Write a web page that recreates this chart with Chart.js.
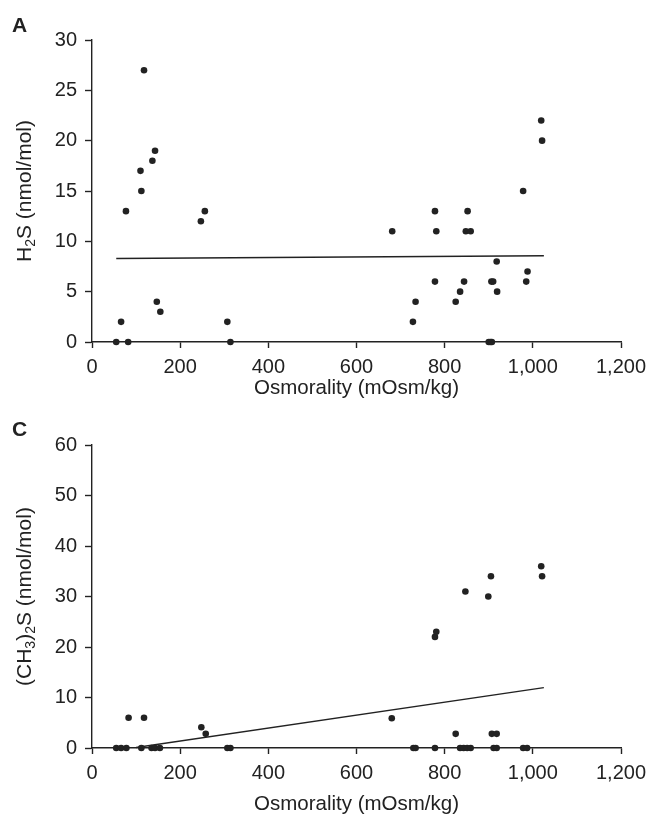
<!DOCTYPE html>
<html>
<head>
<meta charset="utf-8">
<script src="https://cdn.jsdelivr.net/npm/chart.js@4.4.1/dist/chart.umd.min.js"></script>
<style>
  body { margin: 0; background: #fff; }
  #wrap { position: relative; width: 651px; height: 815px; }
  canvas { position: absolute; left: 0; }
  #chartA { top: 0; }
  #chartC { top: 400px; }
  .panel { position: absolute; left: 12px; font: bold 21px 'Liberation Sans', Arial, sans-serif; color: #222; }
</style>
</head>
<body>
<div id="wrap">
  <canvas id="chartA" width="651" height="400"></canvas>
  <canvas id="chartC" width="651" height="415"></canvas>
  <div class="panel" style="top:13px">A</div>
  <div class="panel" style="top:417px">C</div>
</div>
<script>
// パネルA: H2S
const h2sX = [55, 66, 82, 77, 118, 110, 112, 137, 143, 147, 155, 247, 256, 307, 314,
  681, 778, 781, 852, 848, 859, 978, 1019, 1021, 918, 988, 778, 844, 906, 910, 985,
  835, 919, 734, 825, 728, 900, 904, 907];
const h2sY = [0, 2, 0, 13, 27, 17, 15, 18, 19, 4, 3, 12, 13, 2, 0,
  11, 13, 11, 13, 11, 11, 15, 22, 20, 8, 7, 6, 6, 6, 6, 6,
  5, 5, 4, 4, 2, 0, 0, 0];
const h2sFitX = [55, 1025];
const h2sFitY = [8.3, 8.57];

// パネルC: (CH3)2S
const dmsX = [55, 66, 78, 112, 135, 143, 154, 307, 314, 729, 734, 778, 835, 843, 851, 859,
  911, 918, 978, 987,
  83, 118, 248, 258, 680, 825, 907, 918, 778, 781, 847, 899, 905, 1019, 1021];
const dmsY = [0, 0, 0, 0, 0, 0, 0, 0, 0, 0, 0, 0, 0, 0, 0, 0,
  0, 0, 0, 0,
  6, 6, 4.1, 2.8, 5.9, 2.8, 2.8, 2.8, 22, 23, 31, 30, 34, 36, 34];
const dmsFitX = [100, 1025];
const dmsFitY = [0.1, 11.95];

const xMax = 1200;
const xStep = 200;

// 縦軸タイトル（下付き文字あり）
const h2sTitle = [['H'], ['2', true], ['S (nmol/mol)']];
const dmsTitle = [['(CH'], ['3', true], [')'], ['2', true], ['S (nmol/mol)']];

const FONT = "'Liberation Sans', Arial, sans-serif";
const INK = '#222';

const toPoints = (xs, ys) => xs.map((x, i) => ({ x: x, y: ys[i] }));

/**
 * 縦軸タイトルを下付き文字付きで描画
 */
const createYTitlePlugin = (parts) => {
  return {
    id: 'yTitleSub',
    afterDraw(chart) {
      const { ctx, chartArea } = chart;
      const main = `21px ${FONT}`;
      const sub = `14px ${FONT}`;
      ctx.save();
      let total = 0;
      for (const p of parts) {
        ctx.font = p[1] ? sub : main;
        total += ctx.measureText(p[0]).width;
      }
      ctx.translate(31, (chartArea.top + chartArea.bottom) / 2);
      ctx.rotate(-Math.PI / 2);
      ctx.fillStyle = INK;
      ctx.textBaseline = 'alphabetic';
      ctx.textAlign = 'left';
      let x = -total / 2;
      for (const p of parts) {
        ctx.font = p[1] ? sub : main;
        ctx.fillText(p[0], x, p[1] ? 4 : 0);
        x += ctx.measureText(p[0]).width;
      }
      ctx.restore();
    }
  };
};

const makeChart = (canvas, p) => {
  return new Chart(canvas.getContext('2d'), {
    type: 'scatter',
    data: {
      datasets: [
        {
          data: toPoints(p.xs, p.ys),
          pointRadius: 3.3,
          pointBackgroundColor: INK,
          pointBorderWidth: 0,
          clip: false
        },
        {
          data: toPoints(p.fitX, p.fitY),
          showLine: true,
          pointRadius: 0,
          borderColor: INK,
          borderWidth: 1.4,
          clip: false
        }
      ]
    },
    options: {
      responsive: false,
      animation: false,
      layout: { padding: { left: 0, right: 30, top: p.top, bottom: 0 } },
      plugins: { legend: { display: false }, tooltip: { enabled: false } },
      scales: {
        x: {
          type: 'linear',
          min: 0, max: xMax,
          afterFit: s => { s.height = p.xh; s.paddingLeft = 0; s.paddingRight = 0; },
          border: { display: true, color: INK, width: 1.4 },
          grid: { drawOnChartArea: false, drawTicks: true, tickLength: 6, color: INK, tickWidth: 1.4 },
          ticks: {
            stepSize: xStep, color: INK, padding: 7,
            font: { family: FONT, size: 20 },
            callback: v => v.toLocaleString('en-US')
          },
          title: {
            display: true, text: 'Osmorality (mOsm/kg)', color: INK,
            font: { family: FONT, size: 20.5, lineHeight: 1 },
            padding: { top: 0, bottom: p.xtPad }
          }
        },
        y: {
          type: 'linear',
          min: 0, max: p.yMax,
          afterFit: s => { s.width = 92; s.paddingTop = 0; s.paddingBottom = 0; },
          border: { display: true, color: INK, width: 1.4 },
          grid: { drawOnChartArea: false, drawTicks: true, tickLength: 7, color: INK, tickWidth: 1.4 },
          ticks: {
            stepSize: p.yStep, color: INK, padding: 8,
            font: { family: FONT, size: 20 }
          },
          title: { display: false }
        }
      }
    },
    plugins: [createYTitlePlugin(p.yTitle)]
  });
};

document.addEventListener('DOMContentLoaded', function() {
  makeChart(document.getElementById('chartA'), {
    xs: h2sX, ys: h2sY, fitX: h2sFitX, fitY: h2sFitY,
    yMax: 30, yStep: 5, yTitle: h2sTitle,
    top: 40, xh: 58, xtPad: 1
  });
  makeChart(document.getElementById('chartC'), {
    xs: dmsX, ys: dmsY, fitX: dmsFitX, fitY: dmsFitY,
    yMax: 60, yStep: 10, yTitle: dmsTitle,
    top: 45, xh: 67, xtPad: 0
  });
});
</script>
</body>
</html>
